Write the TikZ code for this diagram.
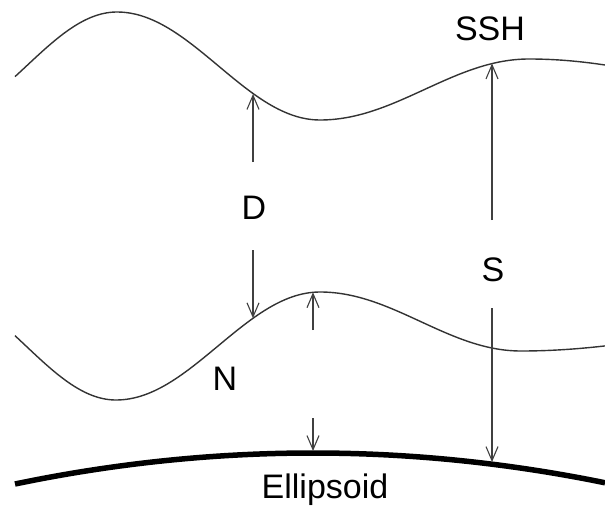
\documentclass[tikz,border=0pt]{standalone}
\usepackage{fontspec}
\setmainfont{Liberation Sans}
\usetikzlibrary{arrows.meta}
\begin{document}
\begin{tikzpicture}[x=1pt,y=-1pt,
  wave/.style={draw=black!80, line width=1.4pt, line join=round},
  ell/.style={draw=black, line width=5.5pt},
  meas/.style={draw=black!75, line width=1.1pt, -{Straight Barb[length=14pt,width=12pt]}},
  lbl/.style={font=\fontsize{34}{40}\selectfont, inner sep=0pt, anchor=base}]
\useasboundingbox (0,0) rectangle (605,511);
% sea surface (SSH)
\draw[wave] plot[domain=15:117,samples=40] (\x,{12+107*(1-cos((117-\x)*1.0))/2})
  -- plot[domain=117:320,samples=60] (\x,{12+108*(1-cos((\x-117)*0.88670))/2})
  -- plot[domain=320:529,samples=60] (\x,{120-61*(1-cos((\x-320)*0.86124))/2})
  -- plot[domain=529:605,samples=30] (\x,{59+40*(1-cos((\x-529)*0.6))/2});
% geoid (N)
\draw[wave] plot[domain=15:116,samples=40] (\x,{400-108*(1-cos((116-\x)*1.0))/2})
  -- plot[domain=116:320,samples=60] (\x,{400-108*(1-cos((\x-116)*0.88235))/2})
  -- plot[domain=320:521,samples=60] (\x,{292+59*(1-cos((\x-320)*0.89552))/2})
  -- plot[domain=521:605,samples=30] (\x,{351-28*(1-cos((\x-521)*0.6))/2});
% ellipsoid
\draw[ell] plot[domain=15:605,samples=80] (\x,{453+3.49*((\x-313)/100)^2});
% labels
\node[lbl] (ssh) at (490,41) {SSH};
\node[lbl] (dl) at (254,219) {D};
\node[lbl] (sl) at (493,281) {S};
\node[lbl] (nl) at (225,390) {N};
\node[lbl] (el) at (325,498) {Ellipsoid};
% arrow end points
\coordinate (dU0) at (253,162);
\coordinate (dU1) at (253,94);
\coordinate (dD0) at (253,250);
\coordinate (dD1) at (253,318.2);
\coordinate (sU0) at (492,220);
\coordinate (sU1) at (492,63.5);
\coordinate (sD0) at (492,308);
\coordinate (sD1) at (492,462);
\coordinate (nU0) at (313,330);
\coordinate (nU1) at (313,292.3);
\coordinate (nD0) at (313,418);
\coordinate (nD1) at (313,451);
\draw[meas] (dU0) -- (dU1);
\draw[meas] (dD0) -- (dD1);
\draw[meas] (sU0) -- (sU1);
\draw[meas] (sD0) -- (sD1);
\draw[meas] (nU0) -- (nU1);
\draw[meas] (nD0) -- (nD1);
\end{tikzpicture}
\end{document}
